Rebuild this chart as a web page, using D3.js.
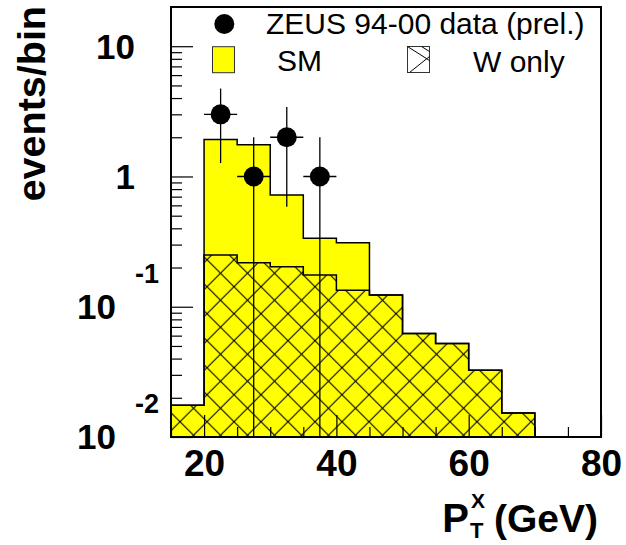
<!DOCTYPE html>
<html>
<head>
<meta charset="utf-8">
<script src="https://d3js.org/d3.v7.min.js"></script>
<style>
  body { margin: 0; background: #fff; }
  svg { display: block; font-family: "Liberation Sans", Arial, Helvetica, sans-serif; }
  .axis path { display: none; }
  .axis line { stroke: #000; stroke-width: 1.2; }
</style>
</head>
<body>
<script>
// histogram bins (GeV) and contents
const binEdges = [15, 20, 25, 30, 35, 40, 45, 50, 55, 60, 65, 70, 75, 80]
const smCounts = [0.0175, 1.92, 1.75, 0.72, 0.336, 0.31, 0.123, 0.0624, 0.0523, 0.0326, 0.0153, 0, 0]
const wCounts  = [0.0175, 0.25, 0.218, 0.203, 0.175, 0.134, 0.123, 0.0624, 0.0523, 0.0326, 0.0153, 0, 0]

// data points
const dataX = [22.5, 27.5, 32.5, 37.5]
const dataY = [3, 1, 2, 1]
const dataErr = [1.732, 1, 1.414, 1]
const dataHalfWidth = 2.5

const yTickValues = [0.01, 0.1, 1, 10]
const xTickValues = [20, 40, 60, 80]
const legendLabels = ['ZEUS 94-00 data (prel.)', 'SM', 'W only']

const margin = {top: 7, right: 25, bottom: 108, left: 171}
const width = 626 - margin.left - margin.right,
      height = 545 - margin.top - margin.bottom

const svg = d3.select('body').append('svg')
    .attr('width', 626)
    .attr('height', 545)

const defs = svg.append('defs')
const P = 27
let hd = ''
for (const k of [-1, 0, 1]) {
  hd += 'M' + (k*P - 1) + ',-1L' + (k*P + P + 1) + ',' + (P + 1)
  hd += 'M' + (k*P + P + 1) + ',-1L' + (k*P - 1) + ',' + (P + 1)
}
const hatch = defs.append('pattern')
    .attr('id', 'hatch')
    .attr('patternUnits', 'userSpaceOnUse')
    .attr('x', 9).attr('y', 9.7)
    .attr('width', P).attr('height', P)
hatch.append('path').attr('d', hd).attr('stroke', '#000').attr('stroke-width', 1.1).attr('fill', 'none')

const g = svg.append('g')
    .attr('transform', 'translate(' + margin.left + ',' + margin.top + ')')

const x = d3.scaleLinear().domain([15, 80]).range([0, width])
const y = d3.scaleLog().domain([0.01, 20]).range([height, 0])
const yFloor = y.domain()[0]

function stepPath(counts) {
  const pts = [[x(binEdges[0]), y(yFloor)]]
  counts.forEach((c, i) => {
    const yy = y(Math.max(c, yFloor))
    pts.push([x(binEdges[i]), yy])
    pts.push([x(binEdges[i+1]), yy])
  })
  pts.push([x(binEdges[binEdges.length-1]), y(yFloor)])
  return d3.line()(pts)
}

// SM histogram
g.append('path')
    .attr('d', stepPath(smCounts))
    .attr('fill', '#ffff00')
    .attr('stroke', '#000')
    .attr('stroke-width', 1.5)

// W only histogram, hatched
g.append('path')
    .attr('d', stepPath(wCounts))
    .attr('fill', 'url(#hatch)')
    .attr('stroke', '#000')
    .attr('stroke-width', 1.5)

// axes, ticks pointing inwards
const yMinor = y.ticks().filter(v => !yTickValues.includes(v) && v < 10.5)
const xMinor = x.ticks(13).filter(v => !xTickValues.includes(v))

g.append('g').attr('class', 'axis')
    .call(d3.axisLeft(y).tickValues(yTickValues).tickSize(-22).tickFormat(''))
g.append('g').attr('class', 'axis')
    .call(d3.axisLeft(y).tickValues(yMinor).tickSize(-11).tickFormat(''))

g.append('g').attr('class', 'axis')
    .attr('transform', 'translate(0,' + height + ')')
    .call(d3.axisBottom(x).tickValues(xTickValues).tickSize(-22).tickPadding(13).tickFormat(d3.format('d')))
    .selectAll('text')
      .attr('font-size', 37)
      .attr('font-weight', 'bold')
      .attr('fill', '#000')
      .attr('font-family', '"Liberation Sans", Arial, Helvetica, sans-serif')
g.append('g').attr('class', 'axis')
    .attr('transform', 'translate(0,' + height + ')')
    .call(d3.axisBottom(x).tickValues(xMinor).tickSize(-10).tickFormat(''))

// y tick labels, ROOT style 10^n
const yLab = g.append('g').attr('font-weight', 'bold').attr('fill', '#000')
yTickValues.forEach(v => {
  const e = Math.round(Math.log10(v))
  const ty = y(v)
  if (e >= 0) {
    yLab.append('text')
        .attr('x', -36).attr('y', ty + 13)
        .attr('text-anchor', 'end')
        .attr('font-size', 35)
        .text(String(v))
  } else {
    yLab.append('text')
        .attr('x', -55).attr('y', ty + 12)
        .attr('text-anchor', 'end')
        .attr('font-size', 35)
        .text('10')
    yLab.append('text')
        .attr('x', -36).attr('y', ty - 24)
        .attr('font-size', 27)
        .text(String(e))
  }
})

// data points with errors
const pts = g.append('g')
dataX.forEach((xc, i) => {
  const v = dataY[i], e = dataErr[i]
  pts.append('line')
      .attr('x1', x(xc)).attr('x2', x(xc))
      .attr('y1', y(Math.max(v - e, yFloor))).attr('y2', y(v + e))
      .attr('stroke', '#000').attr('stroke-width', 1.3)
  pts.append('line')
      .attr('x1', x(xc - dataHalfWidth)).attr('x2', x(xc + dataHalfWidth))
      .attr('y1', y(v)).attr('y2', y(v))
      .attr('stroke', '#000').attr('stroke-width', 1.3)
})
pts.selectAll('circle')
    .data(dataX)
    .enter()
    .append('circle')
      .attr('cx', d => x(d))
      .attr('cy', (d, i) => y(dataY[i]))
      .attr('r', 10)
      .attr('fill', '#000')

// frame
g.append('rect')
    .attr('width', width).attr('height', height)
    .attr('fill', 'none').attr('stroke', '#000').attr('stroke-width', 2)

// legend
const leg = svg.append('g').attr('font-size', 30).attr('fill', '#000')
leg.append('circle').attr('cx', 224.3).attr('cy', 24).attr('r', 10).attr('fill', '#000')
leg.append('text').attr('x', 266).attr('y', 34).text(legendLabels[0])
leg.append('rect').attr('x', 212.5).attr('y', 46.7).attr('width', 22).attr('height', 26)
    .attr('fill', '#ffff00').attr('stroke', '#333').attr('stroke-width', 1)
leg.append('text').attr('x', 277).attr('y', 71).text(legendLabels[1])
const wb = leg.append('g').attr('transform', 'translate(407.5,46.5)')
wb.append('rect').attr('width', 22).attr('height', 26).attr('fill', '#fff')
    .attr('stroke', '#333').attr('stroke-width', 1)
wb.append('path').attr('d', 'M0,0L22,14M22,10L2,26M14,0L22,5')
    .attr('stroke', '#000').attr('stroke-width', 1).attr('fill', 'none')
leg.append('text').attr('x', 473).attr('y', 71.5).text(legendLabels[2])

// axis titles
svg.append('text')
    .attr('transform', 'translate(45,6) rotate(-90)')
    .attr('text-anchor', 'end')
    .attr('font-size', 39.5)
    .attr('font-weight', 'bold')
    .text('events/bin')

const xt = svg.append('g').attr('font-weight', 'bold').attr('fill', '#000')
xt.append('text').attr('x', 469).attr('y', 532).attr('text-anchor', 'end').attr('font-size', 40).text('P')
xt.append('text').attr('x', 471).attr('y', 508).attr('font-size', 21).text('X')
xt.append('text').attr('x', 470).attr('y', 538).attr('font-size', 22).text('T')
xt.append('text').attr('x', 598).attr('y', 532).attr('text-anchor', 'end').attr('font-size', 39).text('(GeV)')
</script>
</body>
</html>
